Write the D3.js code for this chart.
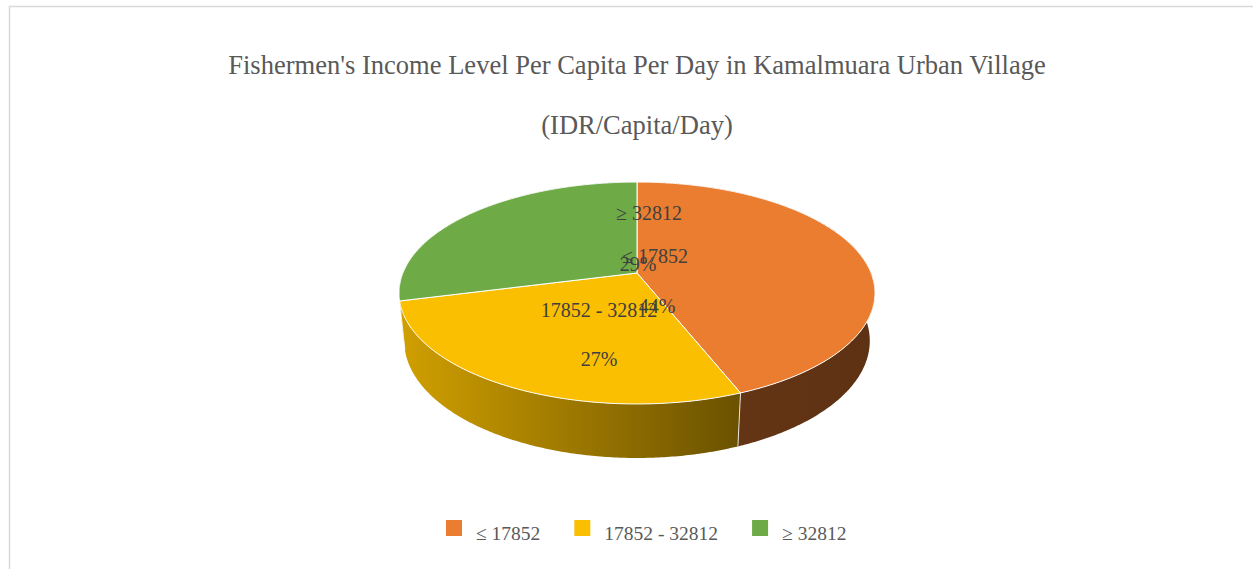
<!DOCTYPE html>
<html>
<head>
<meta charset="utf-8">
<script src="https://cdn.jsdelivr.net/npm/d3@7"></script>
<style>
  body { margin: 0; background: #fff; }
  svg { display: block; }
</style>
</head>
<body>
<div id="chart"></div>
<script>
// ---- data ----
const categories = ["≤ 17852", "17852 - 32812", "≥ 32812"];
const shares = [44, 27, 29];
const titleText = "Fishermen's Income Level Per Capita Per Day in Kamalmuara Urban Village";
const subtitleText = "(IDR/Capita/Day)";

// ---- styles ----
const colors = ["#EB7D31", "#FABF00", "#6EAB46"];
const fontFamily = "'Liberation Serif', 'DejaVu Serif', serif";

const width = 1253, height = 569;
const cx = 637, cy = 273;

// perspective of the tilted disc (3D pie)
const tilt = 27.3 * Math.PI / 180,
    camDist = 4.93,
    focal = 1154,
    depth = 0.232;

function project(a, r, y) {
    var X = r * Math.sin(a), Z = r * Math.cos(a);
    var yp = y * Math.cos(tilt) + Z * Math.sin(tilt);
    var zp = -y * Math.sin(tilt) + Z * Math.cos(tilt) + camDist;
    return [cx + focal * X / zp, cy - focal * yp / zp];
}

function arcPoints(a0, a1, y) {
    var n = Math.max(2, Math.ceil((a1 - a0) / 0.01));
    return d3.range(n + 1).map(i => project(a0 + (a1 - a0) * i / n, 1, y));
}

const svg = d3.select("#chart").append("svg")
    .attr("width", width)
    .attr("height", height);

// chart frame (only top and left edges are inside the window)
svg.append("rect")
    .attr("x", 9.5).attr("y", 6.5)
    .attr("width", 1400).attr("height", 800)
    .attr("fill", "#fff")
    .attr("stroke", "#d9d9d9")
    .attr("stroke-width", 1.5);

// ---- title ----
const title = svg.append("text")
    .attr("x", cx).attr("y", 74)
    .attr("text-anchor", "middle")
    .attr("fill", "#595959")
    .style("font-family", fontFamily)
    .style("font-size", "24px")
    .text(titleText);
const titleSize = 24 * 818 / title.node().getComputedTextLength();
title.style("font-size", titleSize + "px");

svg.append("text")
    .attr("x", cx).attr("y", 134)
    .attr("text-anchor", "middle")
    .attr("fill", "#595959")
    .style("font-family", fontFamily)
    .style("font-size", titleSize + "px")
    .text(subtitleText);

// ---- pie ----
const pie = d3.pie().sort(null).value(d => d);
const arcs = pie(shares).map((d, i) => Object.assign(d, { i: i }));
const line = d3.line();

const defs = svg.append("defs");
arcs.forEach(d => {
    var base = d3.color(colors[d.i]);
    var g = defs.append("linearGradient")
        .attr("id", "side" + d.i)
        .attr("gradientUnits", "userSpaceOnUse")
        .attr("x1", cx - 240).attr("x2", cx + 240)
        .attr("y1", 0).attr("y2", 0);
    g.append("stop").attr("offset", 0).attr("stop-color", base.darker(0.5));
    g.append("stop").attr("offset", 0.72).attr("stop-color", base.darker(2.4));
    g.append("stop").attr("offset", 1).attr("stop-color", base.darker(2.6));
});

// outer walls, far ones first
const walls = arcs.slice().sort((a, b) =>
    Math.cos((b.startAngle + b.endAngle) / 2) - Math.cos((a.startAngle + a.endAngle) / 2));
svg.append("g").selectAll("path")
    .data(walls)
    .join("path")
    .attr("d", d => {
        var top = arcPoints(d.startAngle, d.endAngle, 0);
        var bottom = arcPoints(d.startAngle, d.endAngle, -depth).reverse();
        return line(top.concat(bottom)) + "Z";
    })
    .attr("fill", d => "url(#side" + d.i + ")");

// vertical seams between slices on the near side
svg.append("g").selectAll("path")
    .data(arcs.filter(d => Math.cos(d.startAngle) < 0))
    .join("path")
    .attr("d", d => line([project(d.startAngle, 1, 0), project(d.startAngle, 1, -depth)]))
    .attr("stroke", "#fff")
    .attr("stroke-opacity", 0.8)
    .attr("stroke-width", 1);

// top faces
svg.append("g").selectAll("path")
    .data(arcs)
    .join("path")
    .attr("d", d => line([project(0, 0, 0)].concat(arcPoints(d.startAngle, d.endAngle, 0))) + "Z")
    .attr("fill", d => colors[d.i])
    .attr("stroke", "#fff")
    .attr("stroke-width", 1)
    .attr("stroke-linejoin", "round");

// ---- data labels (Excel placed them near the centre, overlapping) ----
const pct = d3.format(".0%");
const total = d3.sum(shares);
const labelSpots = [
    { nx: 18, ny: -10, px: 20, py: 40 },
    { nx: -38, ny: 44, px: -38, py: 93 },
    { nx: 12, ny: -53, px: 1, py: -2 }
];
const labels = svg.append("g")
    .attr("fill", "#404040")
    .attr("text-anchor", "middle")
    .style("font-family", fontFamily)
    .style("font-size", "20px");
arcs.forEach(d => {
    var s = labelSpots[d.i];
    labels.append("text").attr("x", cx + s.nx).attr("y", cy + s.ny).text(categories[d.i]);
    labels.append("text").attr("x", cx + s.px).attr("y", cy + s.py).text(pct(d.data / total));
});

// ---- legend ----
const legend = svg.append("g").attr("transform", "translate(0,520)");
let lx = 446;
categories.forEach((c, i) => {
    legend.append("rect")
        .attr("x", lx).attr("y", 0)
        .attr("width", 16).attr("height", 16)
        .attr("fill", colors[i]);
    var t = legend.append("text")
        .attr("x", lx + 30).attr("y", 20)
        .attr("fill", "#595959")
        .style("font-family", fontFamily)
        .style("font-size", "19.5px")
        .text(c);
    lx += 30 + t.node().getComputedTextLength() + 34;
});
</script>
</body>
</html>
